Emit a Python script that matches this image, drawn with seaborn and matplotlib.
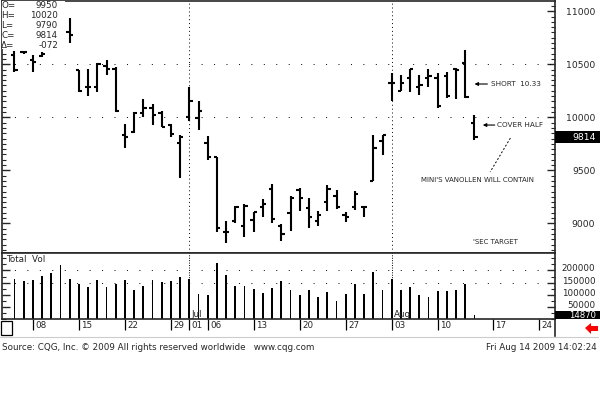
import numpy as np
import pandas as pd
import matplotlib
matplotlib.use("Agg")
import matplotlib.pyplot as plt
import matplotlib.transforms as mtrans
from matplotlib.patches import Rectangle, Polygon
from matplotlib.ticker import MultipleLocator, FixedLocator
import seaborn as sns

# ---------------- data ----------------
dates = ["Jun 04", "Jun 05", "Jun 08", "Jun 09", "Jun 10", "Jun 11", "Jun 12", "Jun 15", "Jun 16",
         "Jun 17", "Jun 18", "Jun 19", "Jun 22", "Jun 23", "Jun 24", "Jun 25", "Jun 26", "Jun 29",
         "Jun 30", "Jul 01", "Jul 02", "Jul 06", "Jul 07", "Jul 08", "Jul 09", "Jul 10", "Jul 13",
         "Jul 14", "Jul 15", "Jul 16", "Jul 17", "Jul 20", "Jul 21", "Jul 22", "Jul 23", "Jul 24",
         "Jul 27", "Jul 28", "Jul 29", "Jul 30", "Jul 31", "Aug 03", "Aug 04", "Aug 05", "Aug 06",
         "Aug 07", "Aug 10", "Aug 11", "Aug 12", "Aug 13", "Aug 14"]
opens = [10590, 10620, 10540, 10580, 10650, 10740, 10800, 10445, 10285, 10290, 10485, 10455,
         9835, 9860, 10045, 10085, 10045, 9925, 9755,
         10005, 9990, 9755, 9625, 8920, 9020, 8975, 9030, 9155, 9320, 8975, 9100, 9315, 9140,
         9020, 9205, 9260, 9080, 9150, 9155, 9400, 9775,
         10325, 10250, 10370, 10290, 10375, 10375, 10390, 10455, 10515, 9950]
highs = [10630, 10630, 10590, 10615, 10760, 10880, 10940, 10450, 10460, 10510, 10540, 10470,
         9935, 10050, 10175, 10125, 10060, 9935, 9835,
         10290, 10155, 9825, 9625, 9020, 9165, 9180, 9110, 9230, 9375, 8990, 9255, 9330, 9235,
         9115, 9360, 9315, 9110, 9305, 9160, 9835, 9835,
         10415, 10400, 10460, 10400, 10460, 10415, 10430, 10465, 10635, 10020]
lows = [10430, 10600, 10425, 10570, 10650, 10700, 10700, 10240, 10205, 10240, 10400, 10050,
        9710, 9855, 10005, 9925, 9905, 9810, 9430,
        9965, 9880, 9595, 8920, 8810, 9000, 8875, 8915, 9060, 9000, 8835, 8930, 9120, 8960,
        8970, 9120, 9135, 9015, 9125, 9060, 9400, 9645,
        10155, 10250, 10240, 10215, 10285, 10090, 10180, 10175, 10185, 9790]
closes = [10450, 10615, 10520, 10600, 10740, 10850, 10780, 10250, 10290, 10505, 10460, 10060,
          9815, 10045, 10090, 10020, 9910, 9840, 9815,
          10155, 10060, 9630, 8955, 8920, 9155, 9165, 9110, 9180, 9045, 8895, 9235, 9235, 9055,
          9080, 9320, 9155, 9060, 9275, 9155, 9710, 9830,
          10320, 10320, 10460, 10305, 10390, 10105, 10200, 10450, 10195, 9814]
volumes = [163000, 155000, 159000, 176000, 191000, 221000, 163000, 145000, 130000, 159000,
           131000, 145000, 159000, 118000, 136000, 159000, 151000, 155000, 173000,
           166000, 105000, 97000, 231000, 180000, 136000, 136000, 125000, 107000, 129000,
           155000, 118000, 100000, 118000, 90000, 111000, 76000, 101000, 145000, 104000,
           193000, 118000,
           166000, 118000, 131000, 100000, 90000, 115000, 115000, 121000, 145000, 14870]

date_ticks = ["Jun 08", "Jun 15", "Jun 22", "Jun 29", "Jul 01", "Jul 06", "Jul 13", "Jul 20",
              "Jul 27", "Aug 03", "Aug 10", "Aug 17", "Aug 24"]
date_tick_labels = ["08", "15", "22", "29", "01", "06", "13", "20", "27", "03", "10", "17", "24"]
month_starts = ["Jul 01", "Aug 03"]
month_labels = ["Jul", "Aug"]

price_ticks = [9000, 9500, 10000, 10500, 11000]
vol_ticks = [50000, 100000, 150000, 200000]
header_names = ["O=", "H=", "L=", "C=", "\u0394="]
header_values = ["9950", "10020", "9790", "9814", "-072"]
last_price = 9814
last_volume = 14870

# ---------------- helpers ----------------
df = pd.DataFrame({"date": dates, "open": opens, "high": highs, "low": lows,
                   "close": closes, "volume": volumes})
df["i"] = np.arange(len(df))
pos = {d: i for i, d in enumerate(dates)}
# future (non-trading yet) dates continue at one bar per weekday
extra = {"Aug 17": len(dates) + 1, "Aug 24": len(dates) + 6}
def xpos(d):
    return pos[d] if d in pos else extra[d]

sns.set_style("white")
plt.rcParams["font.family"] = ["DejaVu Sans"]
plt.rcParams["axes.linewidth"] = 1.2

W, H = 600, 393
fig = plt.figure(figsize=(W / 100, H / 100), dpi=100)

def rect(x0, y0, x1, y1):
    return [x0 / W, 1 - y1 / H, (x1 - x0) / W, (y1 - y0) / H]

XMIN, XMAX = (2 - 14.5) / 9.2, (555 - 14.5) / 9.2

ax_x = fig.add_axes(rect(2, 319, 555, 336))
ax_p = fig.add_axes(rect(2, 1, 555, 253))
ax_v = fig.add_axes(rect(2, 253, 555, 319))

FS = 6.3

# ---------------- price panel ----------------
ax_p.vlines(df["i"], df["low"], df["high"], color="black", lw=1.5, zorder=3)
ax_p.hlines(df["open"], df["i"] - 0.36, df["i"], color="black", lw=1.5, zorder=3)
ax_p.hlines(df["close"], df["i"], df["i"] + 0.36, color="black", lw=1.5, zorder=3)
ax_p.set_xlim(XMIN, XMAX)
ax_p.set_ylim(8720, 11097)
for lvl in [10500, 10000]:
    ax_p.axhline(lvl, color="black", lw=0.7, ls=(0, (1, 11.8)), zorder=1)
for d in month_starts:
    ax_p.axvline(xpos(d), color="black", lw=0.7, ls=(0, (1, 3)), zorder=1)

ax_p.yaxis.set_major_locator(FixedLocator(price_ticks))
ax_p.yaxis.set_minor_locator(MultipleLocator(50))
ax_p.tick_params(axis="y", which="both", left=True, right=True, labelleft=False,
                 labelright=True, direction="in", labelsize=FS + 0.4, pad=29)
ax_p.tick_params(axis="y", which="major", length=6, width=1)
ax_p.tick_params(axis="y", which="minor", length=3, width=0.8)
ax_p.set_yticklabels([str(t) for t in price_ticks])
for lab in ax_p.get_yticklabels():
    lab.set_horizontalalignment("right")
ax_p.set_xticks([])
ax_p.set_xlabel("")
ax_p.set_ylabel("")

# header legend box
ax_p.add_patch(Rectangle((0, 1 - 48 / 252), 63 / 553, 48 / 252, transform=ax_p.transAxes,
                         facecolor="white", edgecolor="none", zorder=5))
for k, (n, v) in enumerate(zip(header_names, header_values)):
    yy = 1 - (5 + 10 * k) / H
    fig.text(1 / W, yy, n, fontsize=FS, va="center", ha="left", zorder=6)
    fig.text(58 / W, yy, v, fontsize=FS, va="center", ha="right", zorder=6)

# last price box
bt = mtrans.blended_transform_factory(fig.transFigure, ax_p.transData)
ax_p.add_patch(Rectangle((555 / W, last_price - 58), 45 / W, 116, transform=bt,
                         facecolor="black", edgecolor="none", clip_on=False, zorder=6))
ax_p.text(596 / W, last_price, str(last_price), transform=bt, color="white",
          fontsize=FS + 0.4, ha="right", va="center", zorder=7, clip_on=False)

# annotations
ax_p.annotate("", xy=(49.7, 10314), xytext=(51.7, 10314),
              arrowprops=dict(arrowstyle="-|>", color="black", lw=0.8, mutation_scale=5))
ax_p.text(51.8, 10314, "SHORT  10.33", fontsize=5.2, va="center", ha="left")
ax_p.annotate("", xy=(50.6, 9927), xytext=(52.5, 9927),
              arrowprops=dict(arrowstyle="-|>", color="black", lw=0.8, mutation_scale=5))
ax_p.text(52.5, 9927, "COVER HALF", fontsize=5.2, va="center", ha="left")
ax_p.plot([53.9, 51.7], [9804, 9484], color="black", lw=0.7, ls=(0, (2, 2)))
ax_p.text(50.3, 9408, "MINI'S VANOLLEN WILL CONTAIN", fontsize=5.0, va="center", ha="center")
ax_p.text(52.3, 8824, "'SEC TARGET", fontsize=5.0, va="center", ha="center")

# ---------------- volume panel ----------------
sns.barplot(x=df["i"], y=df["volume"], native_scale=True, width=0.2, color="black",
            saturation=1, linewidth=0, errorbar=None, ax=ax_v)
ax_v.set_xlim(XMIN, XMAX)
ax_v.set_ylim(0, 272000)
ax_v.set_xlabel("")
ax_v.set_ylabel("")
ax_v.set_xticks([])
for lvl in [200000, 150000]:
    ax_v.axhline(lvl, color="black", lw=0.7, ls=(0, (1, 11.8)), zorder=0)
for d, m in zip(month_starts, month_labels):
    ax_v.axvline(xpos(d), color="black", lw=0.7, ls=(0, (1, 1.5)), zorder=0)
    ax_v.text(xpos(d) + 0.2, 2000, m, fontsize=FS, va="bottom", ha="left")
ax_v.text(0.008, 0.97, "Total  Vol", transform=ax_v.transAxes, fontsize=FS, va="top", ha="left")
ax_v.yaxis.set_major_locator(FixedLocator(vol_ticks))
ax_v.yaxis.set_minor_locator(MultipleLocator(25000))
ax_v.tick_params(axis="y", which="both", left=True, right=True, labelleft=False,
                 labelright=True, direction="in", labelsize=FS, pad=29)
ax_v.tick_params(axis="y", which="major", length=6, width=1)
ax_v.tick_params(axis="y", which="minor", length=3, width=0.8)
ax_v.set_yticklabels([str(t) for t in vol_ticks])
shift = mtrans.ScaledTranslation(0, 2.5 / 100, fig.dpi_scale_trans)
for lab in ax_v.get_yticklabels():
    lab.set_horizontalalignment("right")
    lab.set_transform(lab.get_transform() + shift)

bv = mtrans.blended_transform_factory(fig.transFigure, ax_v.transData)
ax_v.add_patch(Rectangle((555 / W, 0), 45 / W, 33000, transform=bv,
                         facecolor="black", edgecolor="none", clip_on=False, zorder=6))
ax_v.text(596 / W, 16000, str(last_volume), transform=bv, color="white",
          fontsize=FS - 0.2, ha="right", va="center", zorder=7, clip_on=False)

# ---------------- date row ----------------
ax_x.set_xlim(XMIN, XMAX)
ax_x.set_ylim(0, 1)
ax_x.set_xticks([])
ax_x.set_yticks([])
for s in ["top", "left", "bottom"]:
    ax_x.spines[s].set_visible(False)
ax_x.spines["right"].set_linewidth(1.2)
for d, lab in zip(date_ticks, date_tick_labels):
    x = xpos(d)
    ax_x.vlines(x, 0.35, 1.0, color="black", lw=0.9)
    ax_x.text(x + 0.25, 0.62, lab, fontsize=FS, va="center", ha="left")

fig.patches.append(Rectangle((1 / W, 1 - 335 / H), 11 / W, 14 / H, transform=fig.transFigure,
                             facecolor="white", edgecolor="black", lw=0.9, figure=fig))
fig.lines.append(plt.Line2D([0, 598 / W], [1 - 337 / H, 1 - 337 / H], color="#cccccc",
                            lw=0.8, transform=fig.transFigure, figure=fig))
arrow = [(585, 328), (591, 323), (591, 326), (598, 326), (598, 331), (591, 331), (591, 334)]
fig.patches.append(Polygon([(x / W, 1 - y / H) for x, y in arrow], closed=True,
                           transform=fig.transFigure, facecolor="#ff0000", edgecolor="none",
                           figure=fig))

fig.text(2 / W, 1 - 348 / H, "Source: CQG, Inc. \u00a9 2009 All rights reserved worldwide   www.cqg.com",
         fontsize=FS, va="center", ha="left")
fig.text(597 / W, 1 - 348 / H, "Fri Aug 14 2009 14:02:24", fontsize=FS, va="center", ha="right")

fig.savefig("out.png", dpi=100)
